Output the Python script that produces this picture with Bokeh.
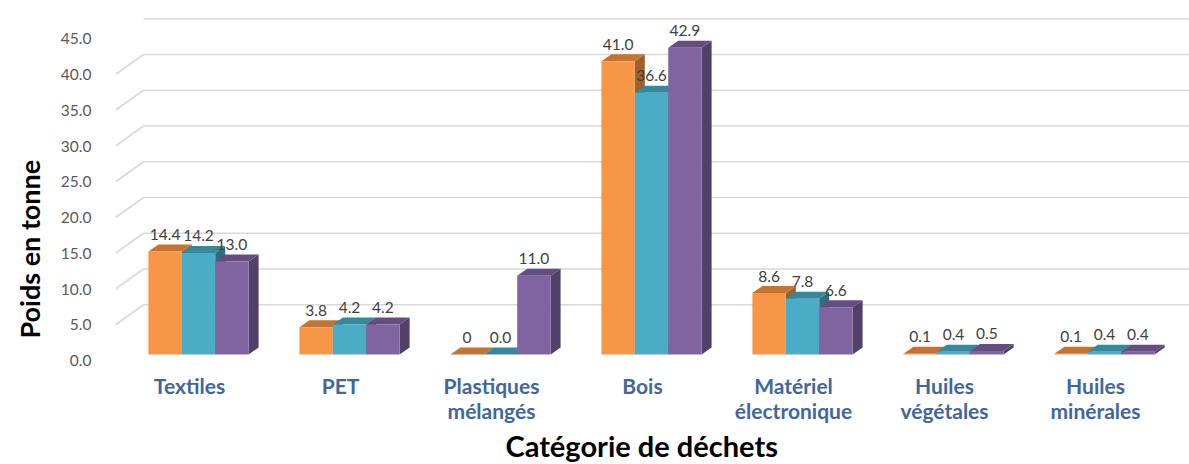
from bokeh.plotting import figure
from bokeh.models import Range1d, FixedTicker, NumeralTickFormatter, Title
from bokeh.embed import file_html
from bokeh.resources import INLINE

# ---------------- data ----------------
categories = ["Textiles", "PET", "Plastiques\nmélangés", "Bois",
              "Matériel\nélectronique", "Huiles\nvégétales", "Huiles\nminérales"]
series_1 = [14.4, 3.8, 0.0, 41.0, 8.6, 0.1, 0.1]
series_2 = [14.2, 4.2, 0.0, 36.6, 7.8, 0.4, 0.4]
series_3 = [13.0, 4.2, 11.0, 42.9, 6.6, 0.5, 0.4]
labels_1 = ["14.4", "3.8", "0", "41.0", "8.6", "0.1", "0.1"]
labels_2 = ["14.2", "4.2", "0.0", "36.6", "7.8", "0.4", "0.4"]
labels_3 = ["13.0", "4.2", "11.0", "42.9", "6.6", "0.5", "0.4"]
y_ticks = [0, 5, 10, 15, 20, 25, 30, 35, 40, 45]
series_colors = ["#F79646", "#4BACC6", "#8064A2"]
x_title = "Catégorie de déchets"
y_title = "Poids en tonne"

# ---------------- styling / geometry (pixels -> data units) ----------------
FONT = "Lato"
XPX = 151.0   # pixels per category
YPX = 7.15    # pixels per tonne
bar_w = 33.4 / XPX
off_x, off_y = 9 / XPX, 6 / YPX        # bars set back from the front plane
dep_x, dep_y = 10 / XPX, 7 / YPX       # bar depth
grid_dx, grid_dy = 28 / XPX, 20 / YPX  # floor depth (front plane -> back wall)

x_start, x_end = -0.4901, 6.6225
y_start, y_end = -0.559, 50.35


def shade(hex_color, f):
    h = hex_color.lstrip("#")
    r, g, b = (int(h[i:i + 2], 16) for i in (0, 2, 4))
    return "#%02x%02x%02x" % (int(r * f), int(g * f), int(b * f))


p = figure(width=1189, height=464, output_backend="svg", toolbar_location=None,
           x_range=Range1d(x_start, x_end), y_range=Range1d(y_start, y_end),
           min_border_left=115, min_border_right=0, min_border_top=0,
           min_border_bottom=100)
p.outline_line_color = None
p.xgrid.visible = False
p.ygrid.visible = False
p.background_fill_color = "white"

# ---------------- 3D gridlines ----------------
grid_col = "#D9D9D9"
diag = [v for v in y_ticks if 0 < v < 45]
p.segment(x0=[x_start] * len(diag), y0=diag,
          x1=[x_start + grid_dx] * len(diag), y1=[v + grid_dy for v in diag],
          line_color=grid_col, line_width=1.6)
back = [v for v in y_ticks if v > 0]
p.segment(x0=[x_start + grid_dx] * len(back), y0=[v + grid_dy for v in back],
          x1=[x_end] * len(back), y1=[v + grid_dy for v in back],
          line_color=grid_col, line_width=1.6)

# ---------------- 3D bars ----------------
all_series = [series_1, series_2, series_3]
all_labels = [labels_1, labels_2, labels_3]
side_xs, side_ys, side_c = [], [], []
top_xs, top_ys, top_c = [], [], []
fl, fr, fb, ft, fc = [], [], [], [], []
lx, ly, lt = [], [], []
for i in range(len(categories)):
    for s, vals in enumerate(all_series):
        v = vals[i]
        x0 = i + off_x + (s - 1.5) * bar_w
        x1 = x0 + bar_w
        b = off_y
        t = off_y + v
        col = series_colors[s]
        side_xs.append([x1, x1 + dep_x, x1 + dep_x, x1])
        side_ys.append([b, b + dep_y, t + dep_y, t])
        side_c.append(shade(col, 0.64))
        top_xs.append([x0, x1, x1 + dep_x, x0 + dep_x])
        top_ys.append([t, t, t + dep_y, t + dep_y])
        top_c.append(shade(col, 0.78))
        fl.append(x0); fr.append(x1); fb.append(b); ft.append(t); fc.append(col)
        lx.append((x0 + x1) / 2); ly.append(t); lt.append(all_labels[s][i])

p.patches(xs=side_xs, ys=side_ys, fill_color=side_c, line_color=None)
p.patches(xs=top_xs, ys=top_ys, fill_color=top_c, line_color=None)
p.quad(left=fl, right=fr, bottom=fb, top=ft, fill_color=fc, line_color=None)

p.text(x=lx, y=ly, text=lt, text_align="center", text_baseline="middle",
       y_offset=-17, text_font_size="15.5px", text_color="#404040",
       text_font={"value": FONT})

# ---------------- axes ----------------
p.xaxis.ticker = FixedTicker(ticks=list(range(len(categories))))
p.xaxis.major_label_overrides = {i: c for i, c in enumerate(categories)}
p.xaxis.axis_line_color = None
p.xaxis.major_tick_line_color = None
p.xaxis.minor_tick_line_color = None
p.xaxis.major_label_standoff = 2
p.xaxis.major_label_text_font = FONT
p.xaxis.major_label_text_font_style = "bold"
p.xaxis.major_label_text_font_size = "21px"
p.xaxis.major_label_text_line_height = 1.0
p.xaxis.major_label_text_color = "#41669B"

p.yaxis.ticker = FixedTicker(ticks=y_ticks)
p.yaxis.formatter = NumeralTickFormatter(format="0.0")
p.yaxis.axis_line_color = None
p.yaxis.major_tick_line_color = None
p.yaxis.minor_tick_line_color = None
p.yaxis.major_label_standoff = 18
p.yaxis.major_label_text_font = FONT
p.yaxis.major_label_text_font_size = "15.5px"
p.yaxis.major_label_text_color = "#595959"

# axis titles (positioned as in the original, not centred on the frame)
p.add_layout(Title(text=y_title, align="left", offset=26, standoff=20,
                   vertical_align="top",
                   text_font=FONT, text_font_style="bold",
                   text_font_size="27px", text_color="#000000"), "left")
p.add_layout(Title(text=x_title, align="left", offset=390, standoff=0,
                   text_font=FONT, text_font_style="bold",
                   text_font_size="29px", text_color="#000000"), "below")

open("out.html", "w").write(file_html(p, INLINE))
